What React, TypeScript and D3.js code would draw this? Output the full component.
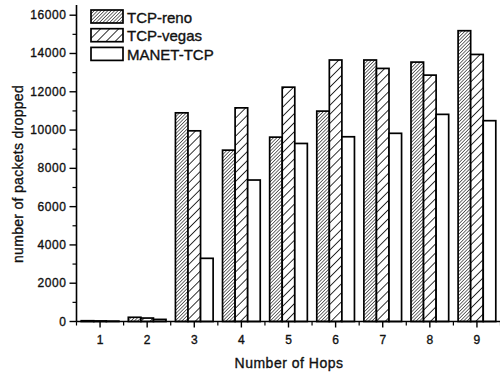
import * as d3 from "d3";

const WIDTH = 500;
const HEIGHT = 374;

const hops = [1, 2, 3, 4, 5, 6, 7, 8, 9];
const seriesNames = ["TCP-reno", "TCP-vegas", "MANET-TCP"];
const renoValues = [40, 220, 10900, 8950, 9630, 10990, 13660, 13550, 15190];
const vegasValues = [30, 180, 9960, 11160, 12240, 13660, 13220, 12870, 13950];
const manetValues = [20, 110, 3300, 7390, 9300, 9650, 9830, 10820, 10490];
const yTicks = [0, 2000, 4000, 6000, 8000, 10000, 12000, 14000, 16000];

const seriesValues = [renoValues, vegasValues, manetValues];
const fills = ["url(#hatch-reno)", "url(#hatch-vegas)", "#fff"];

const FONT = "'Liberation Sans', Arial, sans-serif";

export default function App() {
  const x = d3.scaleLinear().domain([0.5, 9.5]).range([76.5, 500.5]);
  const y = d3.scaleLinear().domain([0, 16000]).range([321.5, 15.2]);
  const sub = d3.scaleBand().domain(seriesNames).range([-0.4, 0.4]);
  const barW = x(sub.bandwidth()) - x(0);

  const minorY = d3.range(1000, 17000, 2000);
  const minorX = d3.range(0.5, 9.6, 1);

  // scanned text looks heavy, thicken it a bit
  const textStyle = { fill: "#111", stroke: "#111", strokeWidth: 0.35 };

  return (
    <svg
      width={WIDTH}
      height={HEIGHT}
      style={{ position: "absolute", left: 0, top: 0, background: "#fff" }}
      fontFamily={FONT}
    >
      <defs>
        <pattern id="hatch-reno" width={2.4} height={2.4} patternUnits="userSpaceOnUse" patternTransform="rotate(45)">
          <rect width={2.4} height={2.4} fill="#fff" />
          <line x1={0} y1={0} x2={0} y2={2.4} stroke="#111" strokeWidth={1.2} />
        </pattern>
        <pattern id="hatch-vegas" width={6.4} height={6.4} patternUnits="userSpaceOnUse" patternTransform="rotate(45)">
          <rect width={6.4} height={6.4} fill="#fff" />
          <line x1={0} y1={0} x2={0} y2={6.4} stroke="#111" strokeWidth={1.7} />
        </pattern>
      </defs>

      {hops.map((h, i) =>
        seriesNames.map((s, k) => {
          const v = seriesValues[k][i];
          const bx = x(h + (sub(s) as number));
          return (
            <rect
              key={`${s}-${h}`}
              x={bx}
              y={y(v)}
              width={barW}
              height={y(0) - y(v)}
              fill={fills[k]}
              stroke="#000"
              strokeWidth={1.7}
            />
          );
        }),
      )}

      {/* axes */}
      <line x1={x(0.5)} x2={x(0.5)} y1={5} y2={y(0)} stroke="#000" strokeWidth={1.6} />
      <line x1={x(0.5)} x2={WIDTH} y1={y(0)} y2={y(0)} stroke="#000" strokeWidth={1.6} />

      {yTicks.map((t) => (
        <g key={`yt-${t}`}>
          <line x1={x(0.5) - 7} x2={x(0.5)} y1={y(t)} y2={y(t)} stroke="#000" strokeWidth={1.4} />
          <text x={x(0.5) - 10} y={y(t) + 4} textAnchor="end" fontSize={12} letterSpacing={0.6} {...textStyle}>
            {t}
          </text>
        </g>
      ))}
      {minorY.map((t) => (
        <line key={`ym-${t}`} x1={x(0.5) - 4} x2={x(0.5)} y1={y(t)} y2={y(t)} stroke="#000" strokeWidth={1.2} />
      ))}

      {hops.map((h) => (
        <g key={`xt-${h}`}>
          <line x1={x(h)} x2={x(h)} y1={y(0)} y2={y(0) + 6} stroke="#000" strokeWidth={1.4} />
          <text x={x(h)} y={y(0) + 22} textAnchor="middle" fontSize={12} {...textStyle}>
            {h}
          </text>
        </g>
      ))}
      {minorX.map((t) => (
        <line key={`xm-${t}`} x1={x(t)} x2={x(t)} y1={y(0)} y2={y(0) + 4} stroke="#000" strokeWidth={1.2} />
      ))}

      <text x={289} y={368} textAnchor="middle" fontSize={14} letterSpacing={0.5} {...textStyle}>
        Number of Hops
      </text>
      <text
        transform={`translate(23 ${174}) rotate(-90)`}
        textAnchor="middle"
        fontSize={14}
        letterSpacing={0.3}
        {...textStyle}
      >
        number of packets dropped
      </text>

      {/* legend */}
      {seriesNames.map((s, k) => (
        <g key={`lg-${s}`} transform={`translate(91 ${10 + k * 18.7})`}>
          <rect width={32} height={13} fill={fills[k]} stroke="#000" strokeWidth={1.7} />
          <text x={36} y={12.5} fontSize={15} {...textStyle}>
            {s}
          </text>
        </g>
      ))}
    </svg>
  );
}
